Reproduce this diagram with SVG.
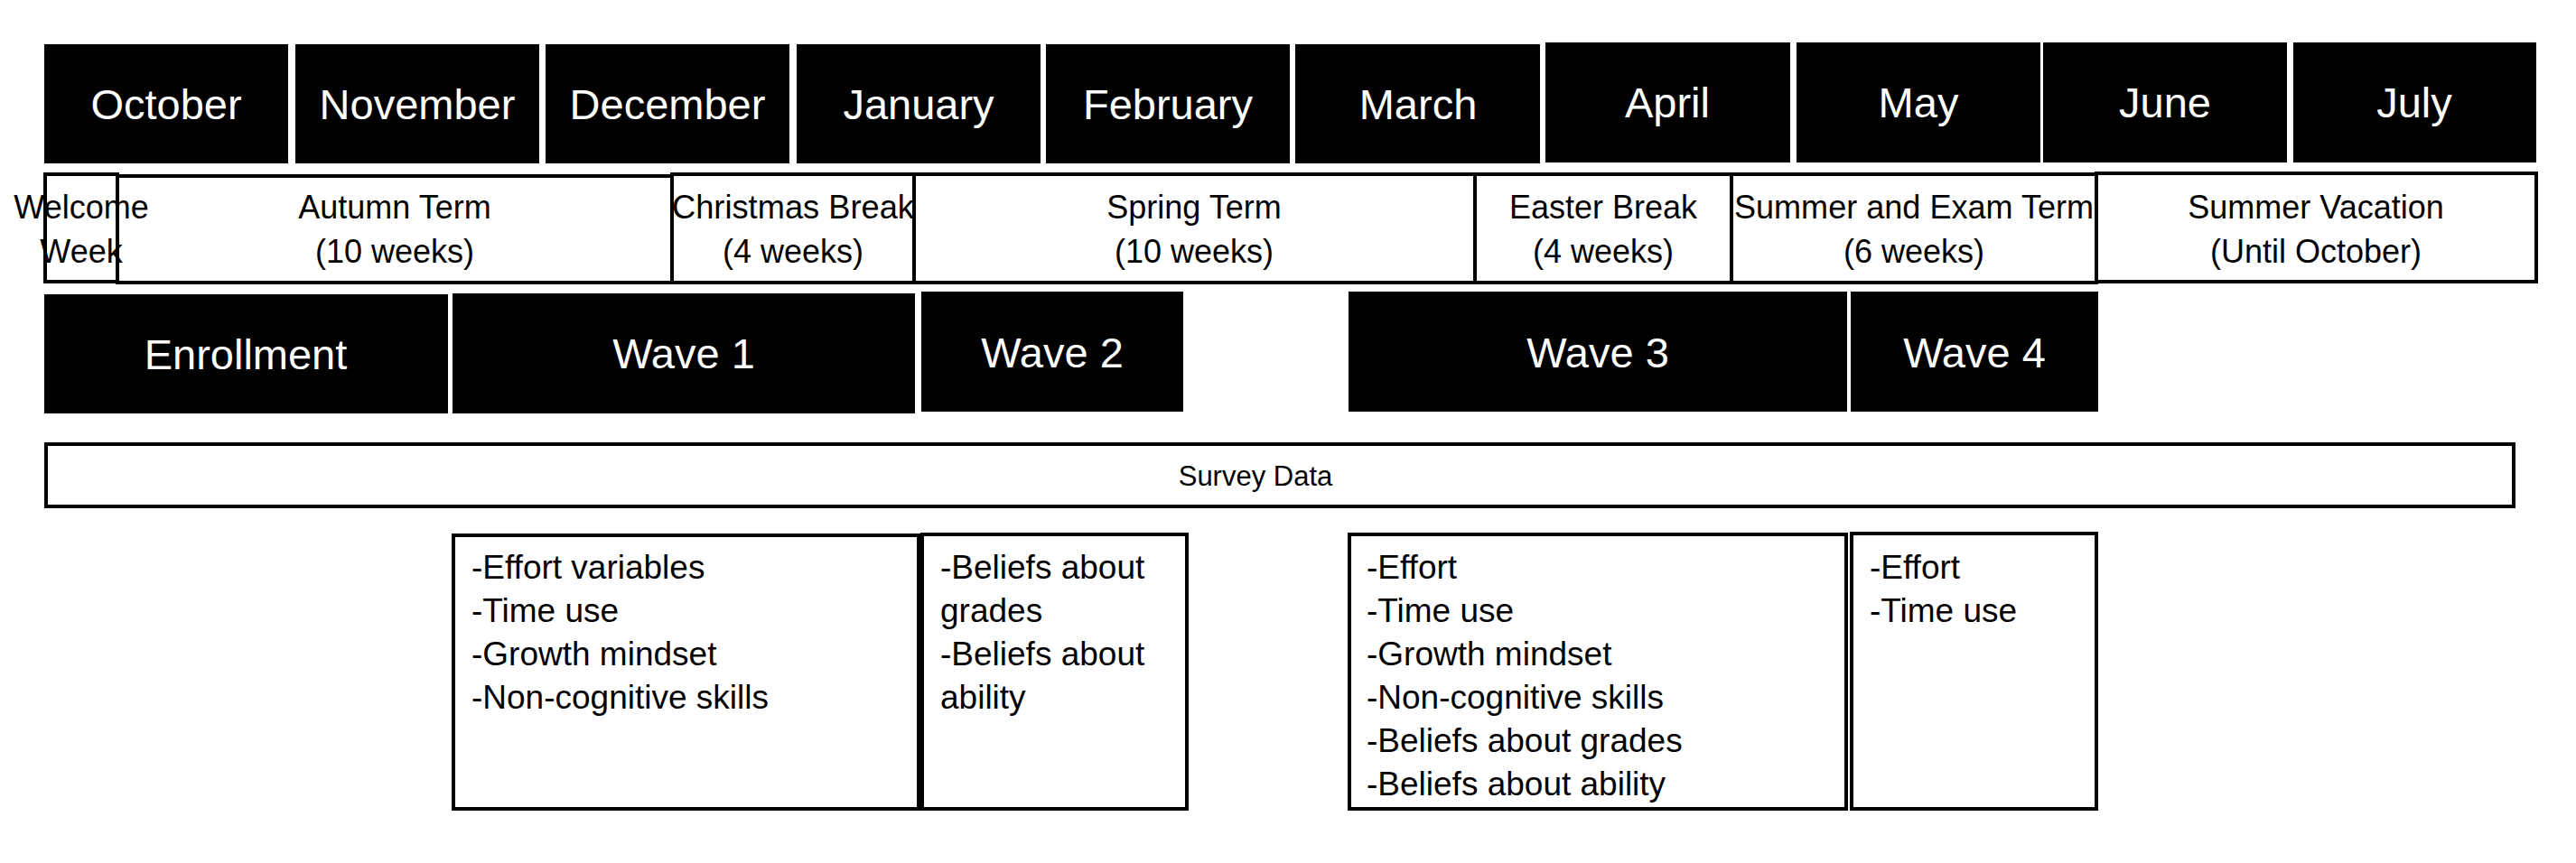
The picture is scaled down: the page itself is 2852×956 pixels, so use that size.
<svg xmlns="http://www.w3.org/2000/svg" width="2852" height="956" viewBox="0 0 2852 956">
  <style>
    text { font-family: "Liberation Sans", Arial, sans-serif; }
    .dark { fill: #000; }
    .box { fill: #fff; stroke: #000; stroke-width: 4; }
    .frame { fill: none; stroke: #000; stroke-width: 4; }
    .month { fill: #fff; font-size: 47px; text-anchor: middle; }
    .wave { fill: #fff; font-size: 47px; text-anchor: middle; }
    .term { fill: #000; font-size: 36px; text-anchor: middle; }
    .survey { fill: #000; font-size: 31px; text-anchor: middle; }
    .item { fill: #000; font-size: 37px; }
  </style>
  <rect width="2852" height="956" fill="#fff"/>

  <!-- Month header row -->
  <g id="month-october"><rect class="dark" x="49" y="49" width="270" height="132"/><text class="month" x="184" y="132">October</text></g>
  <g id="month-november"><rect class="dark" x="327" y="49" width="270" height="132"/><text class="month" x="462" y="132">November</text></g>
  <g id="month-december"><rect class="dark" x="604" y="49" width="270" height="132"/><text class="month" x="739" y="132">December</text></g>
  <g id="month-january"><rect class="dark" x="882" y="49" width="270" height="132"/><text class="month" x="1017" y="132">January</text></g>
  <g id="month-february"><rect class="dark" x="1158" y="49" width="270" height="132"/><text class="month" x="1293" y="132">February</text></g>
  <g id="month-march"><rect class="dark" x="1434" y="49" width="271" height="132"/><text class="month" x="1570" y="132">March</text></g>
  <g id="month-april"><rect class="dark" x="1711" y="47" width="271" height="133"/><text class="month" x="1846" y="130">April</text></g>
  <g id="month-may"><rect class="dark" x="1989" y="47" width="270" height="133"/><text class="month" x="2124" y="130">May</text></g>
  <g id="month-june"><rect class="dark" x="2262" y="47" width="270" height="133"/><text class="month" x="2397" y="130">June</text></g>
  <g id="month-july"><rect class="dark" x="2539" y="47" width="269" height="133"/><text class="month" x="2673" y="130">July</text></g>

  <!-- Academic term row -->
  <g id="term-autumn"><rect class="box" x="130" y="195" width="614" height="118"/><text class="term" x="437" y="242">Autumn Term</text><text class="term" x="437" y="291">(10 weeks)</text></g>
  <g id="term-welcome"><rect class="frame" x="50" y="193" width="80" height="119"/><text class="term" x="90" y="242">Welcome</text><text class="term" x="90" y="291">Week</text></g>
  <g id="term-christmas"><rect class="box" x="744" y="193" width="268" height="120"/><text class="term" x="878" y="242" textLength="268" lengthAdjust="spacingAndGlyphs">Christmas Break</text><text class="term" x="878" y="291">(4 weeks)</text></g>
  <g id="term-spring"><rect class="box" x="1012" y="193" width="621" height="120"/><text class="term" x="1322" y="242">Spring Term</text><text class="term" x="1322" y="291">(10 weeks)</text></g>
  <g id="term-easter"><rect class="box" x="1633" y="193" width="284" height="120"/><text class="term" x="1775" y="242">Easter Break</text><text class="term" x="1775" y="291">(4 weeks)</text></g>
  <g id="term-summer-exam"><rect class="box" x="1917" y="193" width="404" height="120"/><text class="term" x="2119" y="242" textLength="398" lengthAdjust="spacingAndGlyphs">Summer and Exam Term</text><text class="term" x="2119" y="291">(6 weeks)</text></g>
  <g id="term-summer-vacation"><rect class="box" x="2321" y="192" width="487" height="120"/><text class="term" x="2564" y="242">Summer Vacation</text><text class="term" x="2564" y="291">(Until October)</text></g>

  <!-- Survey waves -->
  <g id="wave-enrollment"><rect class="dark" x="49" y="326" width="447" height="132"/><text class="wave" x="272" y="409">Enrollment</text></g>
  <g id="wave-1"><rect class="dark" x="501" y="325" width="512" height="133"/><text class="wave" x="757" y="408">Wave 1</text></g>
  <g id="wave-2"><rect class="dark" x="1020" y="323" width="290" height="133"/><text class="wave" x="1165" y="407">Wave 2</text></g>
  <g id="wave-3"><rect class="dark" x="1493" y="323" width="552" height="133"/><text class="wave" x="1769" y="407">Wave 3</text></g>
  <g id="wave-4"><rect class="dark" x="2049" y="323" width="274" height="133"/><text class="wave" x="2186" y="407">Wave 4</text></g>

  <!-- Survey data banner -->
  <g id="survey-data"><rect class="box" x="51" y="492" width="2732" height="69"/><text class="survey" x="1390" y="538">Survey Data</text></g>

  <!-- Measures collected per wave -->
  <g id="measures-wave-1">
    <rect class="box" x="502" y="593" width="515" height="303"/>
    <text class="item" x="522" y="641">-Effort variables</text>
    <text class="item" x="522" y="689">-Time use</text>
    <text class="item" x="522" y="737">-Growth mindset</text>
    <text class="item" x="522" y="785">-Non-cognitive skills</text>
  </g>
  <g id="measures-wave-2">
    <rect class="box" x="1021" y="592" width="293" height="304"/>
    <text class="item" x="1041" y="641">-Beliefs about</text>
    <text class="item" x="1041" y="689">grades</text>
    <text class="item" x="1041" y="737">-Beliefs about</text>
    <text class="item" x="1041" y="785">ability</text>
  </g>
  <g id="measures-wave-3">
    <rect class="box" x="1494" y="592" width="550" height="304"/>
    <text class="item" x="1513" y="641">-Effort</text>
    <text class="item" x="1513" y="689">-Time use</text>
    <text class="item" x="1513" y="737">-Growth mindset</text>
    <text class="item" x="1513" y="785">-Non-cognitive skills</text>
    <text class="item" x="1513" y="833">-Beliefs about grades</text>
    <text class="item" x="1513" y="881">-Beliefs about ability</text>
  </g>
  <g id="measures-wave-4">
    <rect class="box" x="2050" y="591" width="271" height="305"/>
    <text class="item" x="2070" y="641">-Effort</text>
    <text class="item" x="2070" y="689">-Time use</text>
  </g>

  <!-- No connectors in this timeline -->
  <g id="connectors"/>
</svg>
